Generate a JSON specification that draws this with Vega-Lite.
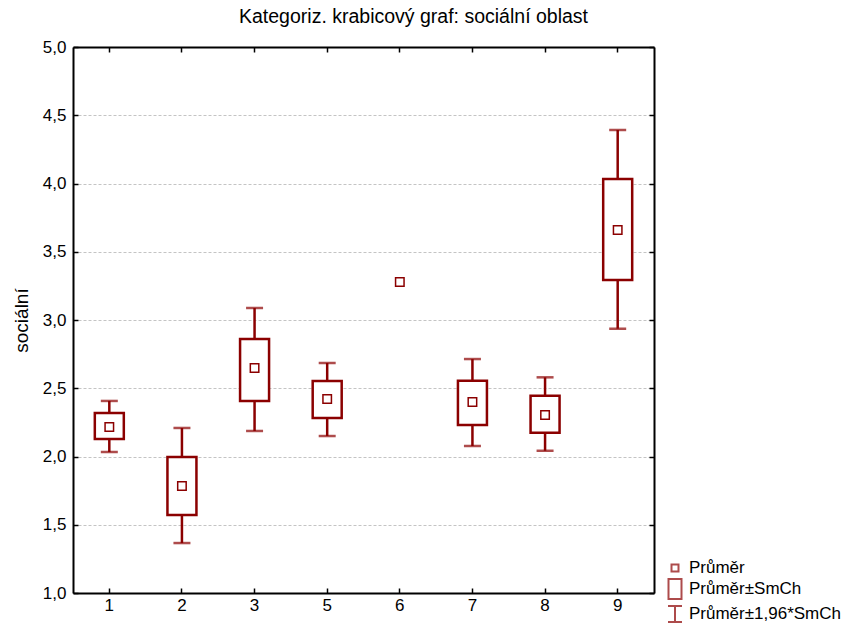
{
  "$schema": "https://vega.github.io/schema/vega-lite/v6.json",
  "width": 581,
  "height": 546,
  "autosize": {"type": "none"},
  "padding": {"left": 73, "top": 47, "right": 190, "bottom": 30},
  "background": "white",
  "title": {
    "text": "Kategoriz. krabicový graf: sociální oblast",
    "fontSize": 19.5,
    "fontWeight": "normal",
    "font": "Liberation Sans",
    "color": "black",
    "anchor": "middle",
    "dx": 50,
    "offset": 11
  },
  "config": {
    "view": {"stroke": null},
    "font": "Liberation Sans",
    "axis": {
      "domainColor": "black",
      "domainWidth": 2,
      "tickColor": "black",
      "tickWidth": 1.5,
      "tickSize": -5,
      "labelFont": "Liberation Sans",
      "labelFontSize": 17,
      "labelColor": "black",
      "titleFont": "Liberation Sans",
      "titleFontSize": 19,
      "titleFontWeight": "normal",
      "titleColor": "black"
    },
    "legend": {
      "orient": "none",
      "legendX": 591,
      "legendY": 510,
      "padding": 0,
      "symbolSize": 400,
      "symbolStrokeColor": "#8B0000",
      "symbolFillColor": "white",
      "symbolStrokeWidth": 2,
      "symbolType": "square",
      "labelFont": "Liberation Sans",
      "labelFontSize": 17,
      "labelColor": "black",
      "labelOffset": 3,
      "rowPadding": -1,
      "title": null
    }
  },
  "datasets": {
    "stats": [
      {"g": "1", "mean": 2.216, "lo": 2.128, "hi": 2.319, "wlo": 2.033, "whi": 2.407},
      {"g": "2", "mean": 1.784, "lo": 1.571, "hi": 1.996, "wlo": 1.366, "whi": 2.209},
      {"g": "3", "mean": 2.648, "lo": 2.407, "hi": 2.861, "wlo": 2.187, "whi": 3.088},
      {"g": "5", "mean": 2.421, "lo": 2.282, "hi": 2.553, "wlo": 2.150, "whi": 2.685},
      {"g": "6", "mean": 3.278, "lo": null, "hi": null, "wlo": null, "whi": null},
      {"g": "7", "mean": 2.399, "lo": 2.231, "hi": 2.555, "wlo": 2.077, "whi": 2.714},
      {"g": "8", "mean": 2.304, "lo": 2.174, "hi": 2.445, "wlo": 2.042, "whi": 2.580},
      {"g": "9", "mean": 3.659, "lo": 3.293, "hi": 4.033, "wlo": 2.936, "whi": 4.392}
    ],
    "legend": [
      {"series": "Průměr"},
      {"series": "Průměr±SmCh"},
      {"series": "Průměr±1,96*SmCh"}
    ]
  },
  "resolve": {"axis": {"x": "independent", "y": "independent"}},
  "layer": [
    {
      "data": {"name": "stats"},
      "mark": {"type": "rule", "color": "#8B0000", "strokeWidth": 2.5},
      "encoding": {
        "x": {
          "field": "g", "type": "ordinal",
          "scale": {"paddingInner": 0, "paddingOuter": 0},
          "axis": {"orient": "bottom", "title": null, "labelAngle": 0, "labelPadding": 9, "labelFontSize": 17, "grid": false}
        },
        "y": {
          "field": "wlo", "type": "quantitative",
          "scale": {"domain": [1, 5], "nice": false, "zero": false},
          "axis": {
            "orient": "left",
            "title": "sociální",
            "titlePadding": 11,
            "titleFontSize": 19,
            "values": [1, 1.5, 2, 2.5, 3, 3.5, 4, 4.5, 5],
            "labelExpr": "replace(format(datum.value, '.1f'), '.', ',')",
            "labelPadding": 12,
            "labelFontSize": 17,
            "grid": true,
            "gridColor": "#c4c4c4",
            "gridDash": [3, 2],
            "gridWidth": 1
          }
        },
        "y2": {"field": "whi"}
      }
    },
    {
      "data": {"name": "stats"},
      "mark": {"type": "tick", "color": "#8B0000", "thickness": 2.5, "size": 17, "orient": "horizontal"},
      "encoding": {
        "x": {"field": "g", "type": "ordinal", "axis": null},
        "y": {"field": "wlo", "type": "quantitative", "axis": null}
      }
    },
    {
      "data": {"name": "stats"},
      "mark": {"type": "tick", "color": "#8B0000", "thickness": 2.5, "size": 17, "orient": "horizontal"},
      "encoding": {
        "x": {"field": "g", "type": "ordinal", "axis": null},
        "y": {"field": "whi", "type": "quantitative", "axis": null}
      }
    },
    {
      "data": {"name": "stats"},
      "mark": {"type": "bar", "width": 29, "fill": "white", "stroke": "#8B0000", "strokeWidth": 2.5},
      "encoding": {
        "x": {"field": "g", "type": "ordinal", "axis": null},
        "y": {"field": "lo", "type": "quantitative", "axis": null},
        "y2": {"field": "hi"}
      }
    },
    {
      "data": {"name": "stats"},
      "mark": {"type": "point", "shape": "square", "size": 72, "filled": false, "fill": "white", "fillOpacity": 1, "stroke": "#8B0000", "strokeWidth": 1.5, "opacity": 1},
      "encoding": {
        "x": {"field": "g", "type": "ordinal", "axis": {"orient": "top", "labels": false, "title": null, "grid": false}},
        "y": {"field": "mean", "type": "quantitative", "axis": {"orient": "right", "labels": false, "title": null, "grid": false, "values": [1, 1.5, 2, 2.5, 3, 3.5, 4, 4.5, 5]}}
      }
    },
    {
      "data": {"name": "legend"},
      "mark": {"type": "point", "size": 0, "strokeWidth": 0, "filled": false},
      "encoding": {
        "shape": {
          "field": "series", "type": "nominal",
          "scale": {
            "domain": ["Průměr", "Průměr±SmCh", "Průměr±1,96*SmCh"],
            "range": [
              "M-0.35,-0.35H0.35V0.35H-0.35Z",
              "M-0.65,-1H0.65V1H-0.65Z",
              "M-0.7,-0.8H0.7M0,-0.8V0.8M-0.7,0.8H0.7"
            ]
          },
          "legend": {"symbolStrokeWidth": 2}
        }
      }
    }
  ]
}
